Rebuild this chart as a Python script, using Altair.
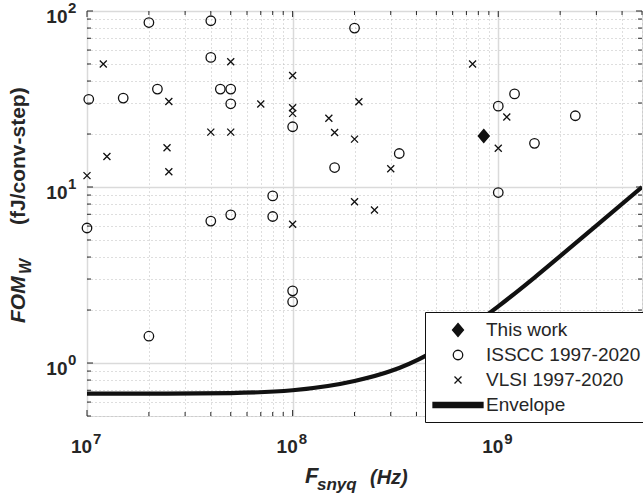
import altair as alt
import pandas as pd

# ---------------- data ----------------
series_names = ["This work", "ISSCC 1997-2020", "VLSI 1997-2020", "Envelope"]

this_x = [8.5e8]
this_y = [19.5]

isscc_x = [2e7, 4e7, 4e7, 1.02e7, 1.5e7, 2.2e7, 4.45e7, 5e7, 5e7, 1e8,
           8e7, 4e7, 5e7, 8e7, 1e7, 2e7, 1e8, 1e8, 2e8, 1.6e8,
           3.3e8, 1e9, 1.2e9, 2.37e9, 1.5e9, 1e9]
isscc_y = [86, 88, 54.5, 31.5, 32, 36, 36, 36, 29.7, 22,
           8.9, 6.4, 6.95, 6.8, 5.85, 1.42, 2.57, 2.23, 80, 12.9,
           15.5, 28.8, 33.8, 25.4, 17.7, 9.3]

vlsi_x = [1.2e7, 2.5e7, 5e7, 4e7, 5e7, 7e7, 1e8, 1e8, 1e8, 2.45e7,
          1.25e7, 2.5e7, 1e7, 1e8, 7.5e8, 2.1e8, 1.5e8, 1.6e8, 2e8, 3e8,
          2e8, 2.5e8, 1.1e9, 1e9]
vlsi_y = [50, 30.6, 51.5, 20.5, 20.5, 29.6, 43, 28.2, 26.2, 16.7,
          14.9, 12.2, 11.6, 6.15, 50, 30.5, 24.6, 20.4, 18.7, 12.7,
          8.25, 7.4, 25, 16.6]

env_x = [1e7, 2e7, 5e7, 1e8, 2e8, 3e8, 4.5e8, 7e8, 1e9, 1.5e9, 2e9, 3e9, 5e9]
env_y = [0.67, 0.67, 0.675, 0.70, 0.79, 0.90, 1.11, 1.55, 2.1, 3.06, 4.05, 6.03, 10.0]

x_major = [1e7, 1e8, 1e9]
x_minor = [2e7, 3e7, 4e7, 5e7, 6e7, 7e7, 8e7, 9e7,
           2e8, 3e8, 4e8, 5e8, 6e8, 7e8, 8e8, 9e8,
           2e9, 3e9, 4e9, 5e9]
x_tick_base = "10"
x_tick_exp = ["7", "8", "9"]

y_major = [1, 10, 100]
y_minor = [0.5, 0.6, 0.7, 0.8, 0.9, 2, 3, 4, 5, 6, 7, 8, 9,
           20, 30, 40, 50, 60, 70, 80, 90]
y_tick_base = "10"
y_tick_exp = ["0", "1", "2"]

# ---------------- layout / style ----------------
W, H = 555, 405
FONT = "Liberation Sans"
TXT = "#262626"
x_dom = [1e7, 5e9]
y_dom = [0.5, 100]
xscale = alt.Scale(type="log", domain=x_dom, nice=False)
yscale = alt.Scale(type="log", domain=y_dom, nice=False)


def is_major(vals):
    return " || ".join(f"abs(datum.value - {v}) < {v * 1e-6}" for v in vals)


def grid_axis(majors, minors, base, **kw):
    test = is_major(majors)
    return alt.Axis(
        values=sorted(majors + minors), labelExpr=f"({test}) ? '{base}' : ''",
        grid=True, ticks=False, tickSize=0, domain=False, title=None,
        gridColor={"condition": {"test": test, "value": "#dadada"}, "value": "#bdbdbd"},
        gridDash={"condition": {"test": test, "value": []}, "value": [1, 3]},
        gridWidth={"condition": {"test": test, "value": 1.5}, "value": 1},
        labelFont=FONT, labelFontSize=19, labelFontWeight="bold", labelColor=TXT,
        labelOverlap=False, labelFlush=False, **kw)


xaxis = grid_axis(x_major, x_minor, x_tick_base, labelPadding=21, labelOffset=-6)
yaxis = grid_axis(y_major, y_minor, y_tick_base, labelPadding=20, labelOffset=5)

# marker shapes (custom paths, drawn at a common symbol size: 1 unit = 10 px)
SYM = 400
shape_range = [
    "M0,-0.65L0.55,0L0,0.65L-0.55,0Z",
    "M-0.475,0A0.475,0.475 0 1,0 0.475,0A0.475,0.475 0 1,0 -0.475,0Z",
    "M-0.35,-0.35L0.35,0.35M-0.35,0.35L0.35,-0.35",
    "M-2.5,-0.25H2.5V0.25H-2.5Z",
]
fill_range = ["#111111", "transparent", "transparent", "#111111"]
stroke_range = ["#111111"] * 4

leg = alt.Legend(title=None, orient="none", legendX=338, legendY=301,
                 labelFont=FONT, labelFontSize=19, labelColor=TXT,
                 symbolSize=SYM, symbolStrokeWidth=1.3, symbolOffset=15,
                 labelOffset=17, padding=7, rowPadding=4, strokeColor="#111111",
                 fillColor="white", labelLimit=400)

pts = pd.DataFrame({
    "x": this_x + isscc_x + vlsi_x,
    "y": this_y + isscc_y + vlsi_y,
    "series": [series_names[0]] * len(this_x)
              + [series_names[1]] * len(isscc_x)
              + [series_names[2]] * len(vlsi_x),
})

X = lambda f: alt.X(f, scale=xscale, axis=xaxis)
Y = lambda f: alt.Y(f, scale=yscale, axis=yaxis)

points = alt.Chart(pts).mark_point(filled=True, size=SYM, strokeWidth=1.3, opacity=1).encode(
    x=X("x:Q"),
    y=Y("y:Q"),
    shape=alt.Shape("series:N", scale=alt.Scale(domain=series_names, range=shape_range), legend=leg),
    fill=alt.Fill("series:N", scale=alt.Scale(domain=series_names, range=fill_range), legend=leg),
    stroke=alt.Stroke("series:N", scale=alt.Scale(domain=series_names, range=stroke_range), legend=leg),
)

env = pd.DataFrame({"x": env_x, "y": env_y})
envelope = alt.Chart(env).mark_line(color="#111111", strokeWidth=4.2, interpolate="monotone", clip=True).encode(
    x=X("x:Q"),
    y=Y("y:Q"),
)


def ticks(vals, axis, side, length):
    d = alt.Chart(pd.DataFrame({"x" if axis == "x" else "y": vals})).mark_rule(color=TXT, strokeWidth=1)
    if axis == "x":
        f = X("x:Q")
        if side == "bottom":
            return d.encode(x=f, y=alt.value(H), y2=alt.value(H - length))
        return d.encode(x=f, y=alt.value(0), y2=alt.value(length))
    f = Y("y:Q")
    if side == "left":
        return d.encode(y=f, x=alt.value(0), x2=alt.value(length))
    return d.encode(y=f, x=alt.value(W), x2=alt.value(W - length))


tick_layers = []
for side in ["bottom", "top"]:
    tick_layers.append(ticks(x_major, "x", side, 6))
    tick_layers.append(ticks(x_minor, "x", side, 4))
for side in ["left", "right"]:
    tick_layers.append(ticks(y_major, "y", side, 6))
    tick_layers.append(ticks(y_minor, "y", side, 4))

# exponents of the tick labels (placed through the scales)
x_exp = alt.Chart(pd.DataFrame({"x": x_major, "e": x_tick_exp})).mark_text(
    font=FONT, fontSize=15, fontWeight="bold", color=TXT, align="left",
    baseline="alphabetic", dx=6).encode(x=X("x:Q"), y=alt.value(H + 28), text="e:N")
y_exp = alt.Chart(pd.DataFrame({"y": y_major, "e": y_tick_exp})).mark_text(
    font=FONT, fontSize=15, fontWeight="bold", color=TXT, align="left",
    baseline="alphabetic", dy=2).encode(y=Y("y:Q"), x=alt.value(-19), text="e:N")

one = pd.DataFrame({"k": [0]})


def txt(text, x, y, size, angle=0, italic=True):
    kw = dict(text=text, font=FONT, fontSize=size, fontWeight="bold",
              align="left", baseline="alphabetic", color=TXT)
    if italic:
        kw["fontStyle"] = "italic"
    if angle:
        kw["angle"] = angle
    return alt.Chart(one).mark_text(**kw).encode(x=alt.value(x), y=alt.value(y))


titles = [
    txt("F", 218, 472, 22),
    txt("snyq", 230, 479, 17),
    txt("(Hz)", 283, 473, 20),
    txt("FOM", -62, 312, 21, angle=270),
    txt("W", -56, 263, 16, angle=270),
    txt("(fJ/conv-step)", -62, 214, 21, angle=270, italic=False),
]

chart = alt.layer(envelope, points, *tick_layers, x_exp, y_exp, *titles).properties(
    width=W, height=H,
    autosize=alt.AutoSizeParams(type="none"),
    padding={"left": 87, "top": 11, "right": 1, "bottom": 82},
).configure_view(stroke="#111111", strokeWidth=1.3).configure(background="white")

chart.save("out.html", embed_options={"renderer": "svg", "actions": False})
